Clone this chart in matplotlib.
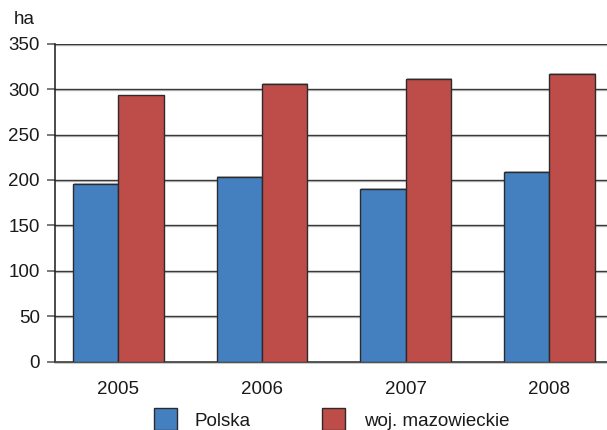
import matplotlib
matplotlib.use("Agg")
import matplotlib.pyplot as plt
import matplotlib.patheffects as pe
import numpy as np

years = ["2005", "2006", "2007", "2008"]
polska = [196, 203, 190, 209]
mazowieckie = [293, 306, 311, 317]
series_names = ["Polska", "woj. mazowieckie"]
y_ticks = [0, 50, 100, 150, 200, 250, 300, 350]
unit_label = "ha"

BLUE = "#4480C0"
RED = "#BE4C49"
EDGE = "#2b2b2b"
TEXT = "#1a1a1a"
FS = 13.5

plt.rcParams["font.family"] = ["Liberation Sans", "DejaVu Sans"]

fig = plt.figure(figsize=(6.07, 4.30), dpi=100)
ax = fig.add_axes([55 / 607, 1 - 361.7 / 430, 1 - 55 / 607, (361.7 - 43.7) / 430])

x = np.arange(len(years))
w = 0.3166
shadow = [pe.SimplePatchShadow(offset=(0.7, 0.7), shadow_rgbFace="#a0a0a0", alpha=0.7), pe.Normal()]
b1 = ax.bar(x - w / 2, polska, w, color=BLUE, edgecolor=EDGE, linewidth=1.0, zorder=3)
b2 = ax.bar(x + w / 2, mazowieckie, w, color=RED, edgecolor=EDGE, linewidth=1.0, zorder=3)
for bar in list(b1) + list(b2):
    bar.set_path_effects(shadow)

ax.set_xlim(-0.4405, 3.4008)
ax.set_ylim(0, 350)
ax.set_yticks(y_ticks)
ax.set_xticks(x)
ax.set_xticklabels(years)

line_shadow = [pe.SimpleLineShadow(offset=(0, -0.7), shadow_color="#c4c4c4", alpha=1.0), pe.Normal()]
for v in y_ticks[1:]:
    ax.axhline(v, color="#3a3a3a", linewidth=1.0, zorder=1, path_effects=line_shadow)

for s in ["top", "right"]:
    ax.spines[s].set_visible(False)
ax.spines["left"].set_color("#1a1a1a")
ax.spines["left"].set_linewidth(1.1)
ax.spines["bottom"].set_color("#3a3a3a")
ax.spines["bottom"].set_linewidth(1.2)
ax.spines["bottom"].set_path_effects(line_shadow)

ax.tick_params(axis="y", length=6, width=1.1, color="#555555", pad=5, labelsize=FS, labelcolor=TEXT)
ax.tick_params(axis="x", length=0, pad=14, labelsize=FS, labelcolor=TEXT)

fig.text(14 / 607, 1 - 19 / 430, unit_label, fontsize=FS, color=TEXT, va="center", ha="left")

# legend drawn beneath the axis
for lx, tx, color, name in [(154, 195, BLUE, series_names[0]), (322, 364, RED, series_names[1])]:
    fig.patches.append(plt.Rectangle((lx / 607, 0), 23 / 607, 22 / 430,
                                     transform=fig.transFigure, facecolor=color,
                                     edgecolor=EDGE, linewidth=1.0))
    fig.text(tx / 607, 1 - 421 / 430, name, fontsize=FS, color=TEXT,
             va="center", ha="left")

fig.savefig("out.png", dpi=100, facecolor="white")
